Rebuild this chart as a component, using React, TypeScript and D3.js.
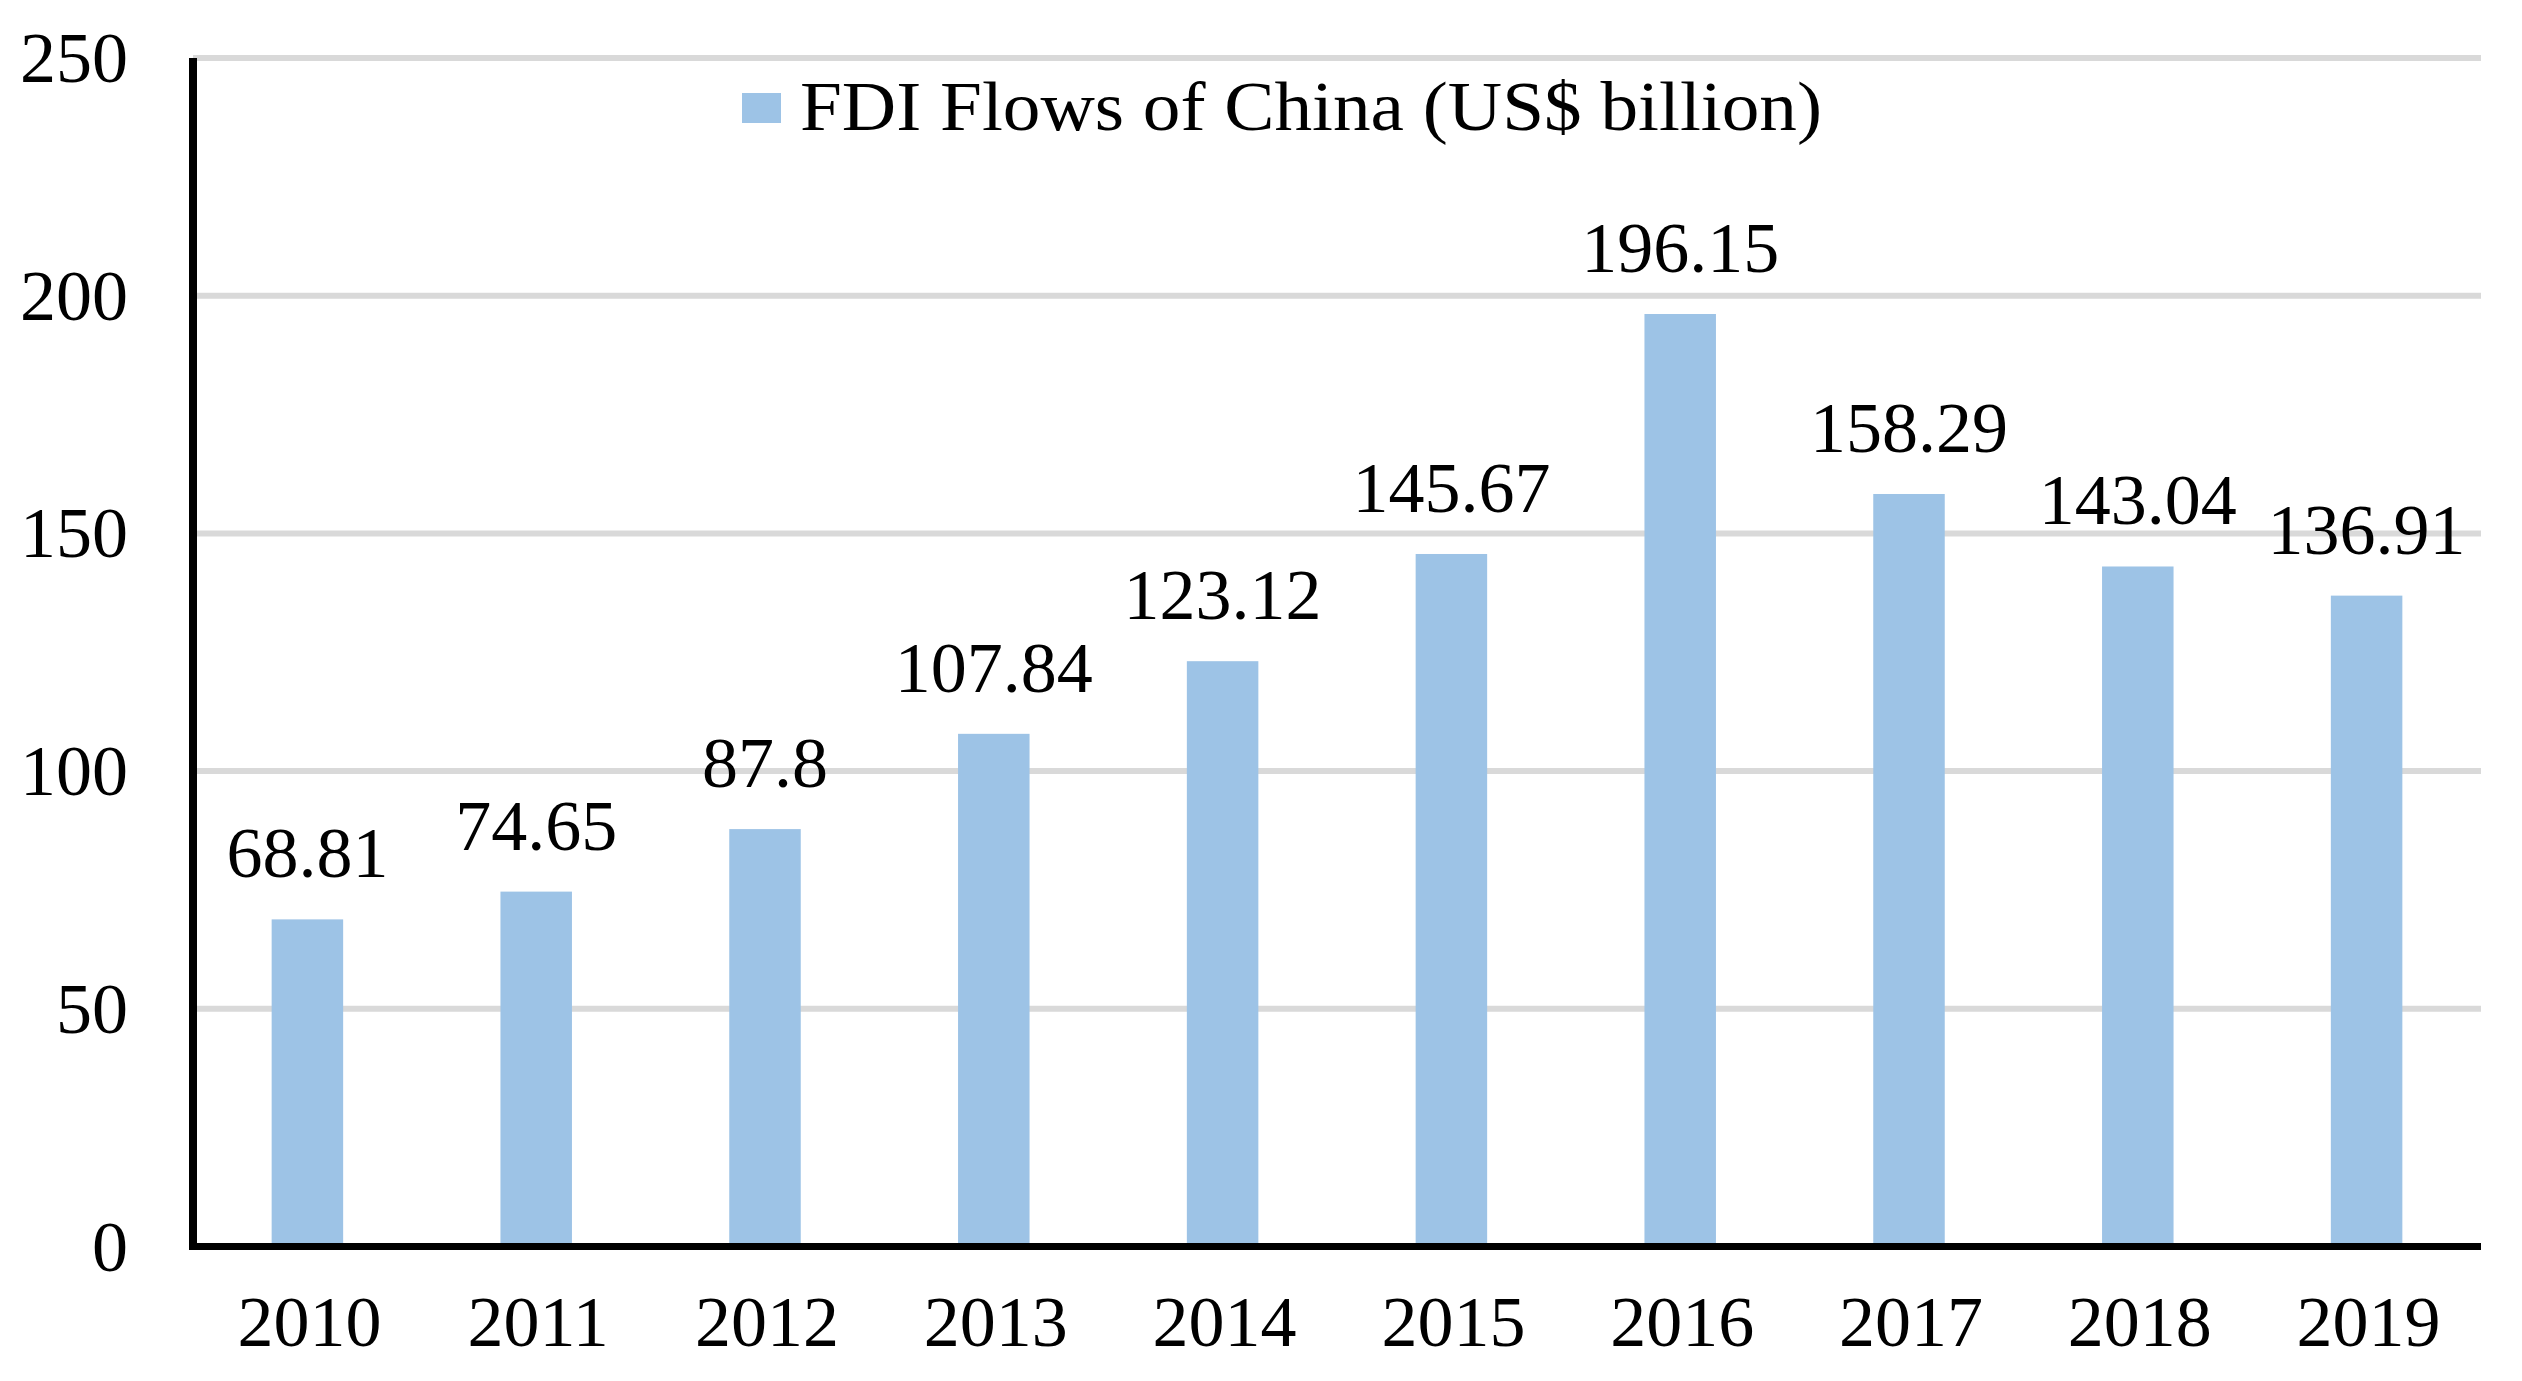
import React from "react";
import * as d3 from "d3";

const years = ["2010", "2011", "2012", "2013", "2014", "2015", "2016", "2017", "2018", "2019"];
const fdiValues = [68.81, 74.65, 87.8, 107.84, 123.12, 145.67, 196.15, 158.29, 143.04, 136.91];
const valueLabels = ["68.81", "74.65", "87.8", "107.84", "123.12", "145.67", "196.15", "158.29", "143.04", "136.91"];
const yTicks = [0, 50, 100, 150, 200, 250];
const legendLabel = "FDI Flows of China (US$ billion)";

const W = 2522;
const H = 1381;
const left = 193;
const right = 2481;
const top = 58;
const bottom = 1246.5;
const font = "'Liberation Serif', 'Times New Roman', serif";
const barColor = "#9dc3e6";

export default function App() {
  const x = d3.scaleBand<string>().domain(years).range([left, right]).paddingInner(0.6875).paddingOuter(0.34375);
  const y = d3.scaleLinear().domain([0, 250]).range([bottom, top]);

  return (
    <svg width={W} height={H} style={{ position: "absolute", left: 0, top: 0, background: "#fff" }}>
      <rect x={0} y={0} width={W} height={H} fill="#fff" />
      {yTicks.filter((t) => t > 0).map((t) => (
        <line key={"g" + t} x1={left} x2={right} y1={y(t)} y2={y(t)} stroke="#d9d9d9" strokeWidth={6} />
      ))}
      {fdiValues.map((v, i) => (
        <rect key={"b" + i} x={x(years[i])!} width={x.bandwidth()} y={y(v)} height={y(0) - y(v)} fill={barColor} />
      ))}
      {fdiValues.map((v, i) => (
        <text
          key={"l" + i}
          x={x(years[i])! + x.bandwidth() / 2}
          y={y(v) - 42}
          textAnchor="middle"
          fontFamily={font}
          fontSize={72}
          fill="#000"
        >
          {valueLabels[i]}
        </text>
      ))}
      <line x1={left} x2={left} y1={top} y2={bottom + 3.5} stroke="#000" strokeWidth={8} />
      <line x1={left - 4} x2={right} y1={bottom} y2={bottom} stroke="#000" strokeWidth={7} />
      {yTicks.map((t) => (
        <text key={"y" + t} x={128} y={y(t) + 24} textAnchor="end" fontFamily={font} fontSize={72} fill="#000">
          {t}
        </text>
      ))}
      {years.map((yr) => (
        <text
          key={"x" + yr}
          x={x(yr)! + x.bandwidth() / 2 + 2}
          y={1346}
          textAnchor="middle"
          fontFamily={font}
          fontSize={72}
          fill="#000"
        >
          {yr}
        </text>
      ))}
      <rect x={742} y={93} width={39} height={30} fill={barColor} />
      <text x={800} y={130} fontFamily={font} fontSize={70} textLength={1022} lengthAdjust="spacingAndGlyphs" fill="#000">
        {legendLabel}
      </text>
    </svg>
  );
}
